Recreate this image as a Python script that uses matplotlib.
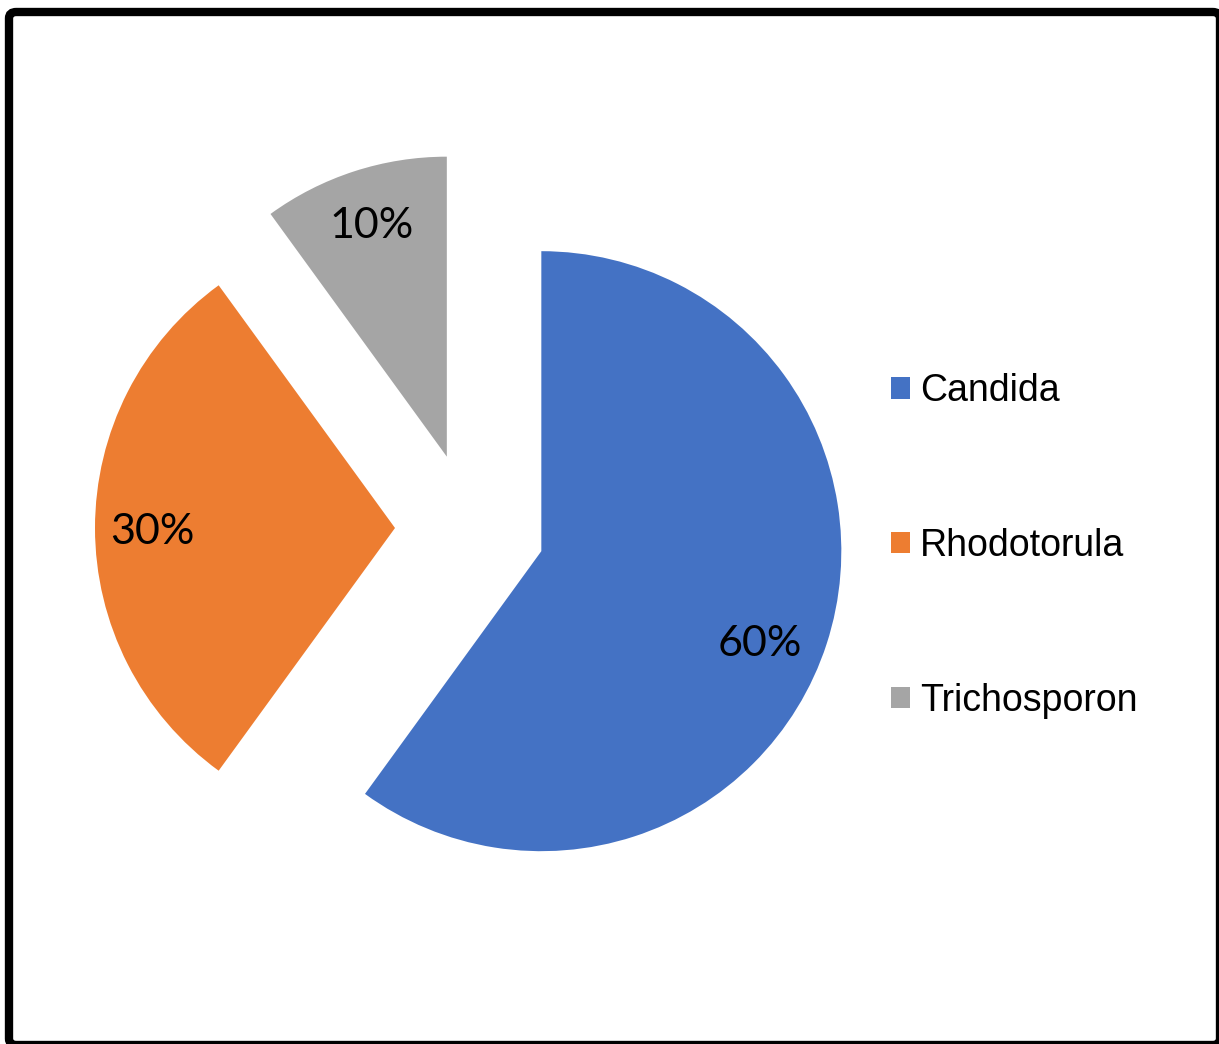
import math

import matplotlib
matplotlib.use("Agg")
import matplotlib.pyplot as plt
from matplotlib.patches import Patch, FancyBboxPatch

# ---- data ----
genera = ["Candida", "Rhodotorula", "Trichosporon"]
shares = [60, 30, 10]
colors = ["#4472C4", "#ED7D31", "#A5A5A5"]
explode = [0.25, 0.25, 0.25]

W, H = 1219, 1044
DPI = 100
R_PX = 300.0          # pie radius in pixels
CX, CY = 470.0, 516.0  # pie centre in pixels (from bottom-left)

fig = plt.figure(figsize=(W / DPI, H / DPI), dpi=DPI)
fig.patch.set_facecolor("white")

ax = fig.add_axes([0, 0, 1, 1])
wedges, texts, autotexts = ax.pie(
    shares,
    colors=colors,
    explode=explode,
    startangle=90,
    counterclock=False,
    autopct="%1.0f%%",
    pctdistance=0.81,
    wedgeprops=dict(linewidth=0),
    textprops=dict(family=["Lato", "DejaVu Sans"], fontsize=31, color="black"),
)

# nudge the big slice's label a little further round the arc
w0 = wedges[0]
ang = math.radians(-23)
autotexts[0].set_position((w0.center[0] + 0.79 * w0.r * math.cos(ang),
                           w0.center[1] + 0.79 * w0.r * math.sin(ang)))
# and drop the orange label slightly
x1, y1 = autotexts[1].get_position()
autotexts[1].set_position((x1, y1 - 0.015))

ax.set_xlim(-CX / R_PX, (W - CX) / R_PX)
ax.set_ylim(-CY / R_PX, (H - CY) / R_PX)
ax.set_aspect("equal")
ax.axis("off")

handles = [Patch(facecolor=c, edgecolor="none") for c in colors]
fig.legend(
    handles,
    genera,
    loc="center left",
    bbox_to_anchor=(891 / W, 1 - 546 / H),
    frameon=False,
    prop=dict(family=["Liberation Sans", "DejaVu Sans"], size=27),
    handlelength=0.5,
    handleheight=0.5,
    handletextpad=0.27,
    labelspacing=3.17,
    borderpad=0,
    borderaxespad=0,
)

# outer frame around the whole chart
frame = FancyBboxPatch(
    (9 / W, -1 / H), (1220 - 9) / W, (1032 + 1) / H,
    boxstyle="round,pad=0,rounding_size=0.006",
    transform=fig.transFigure,
    facecolor="none", edgecolor="black", linewidth=6,
    clip_on=False,
)
fig.patches.append(frame)

fig.savefig("out.png", dpi=DPI, facecolor="white")
